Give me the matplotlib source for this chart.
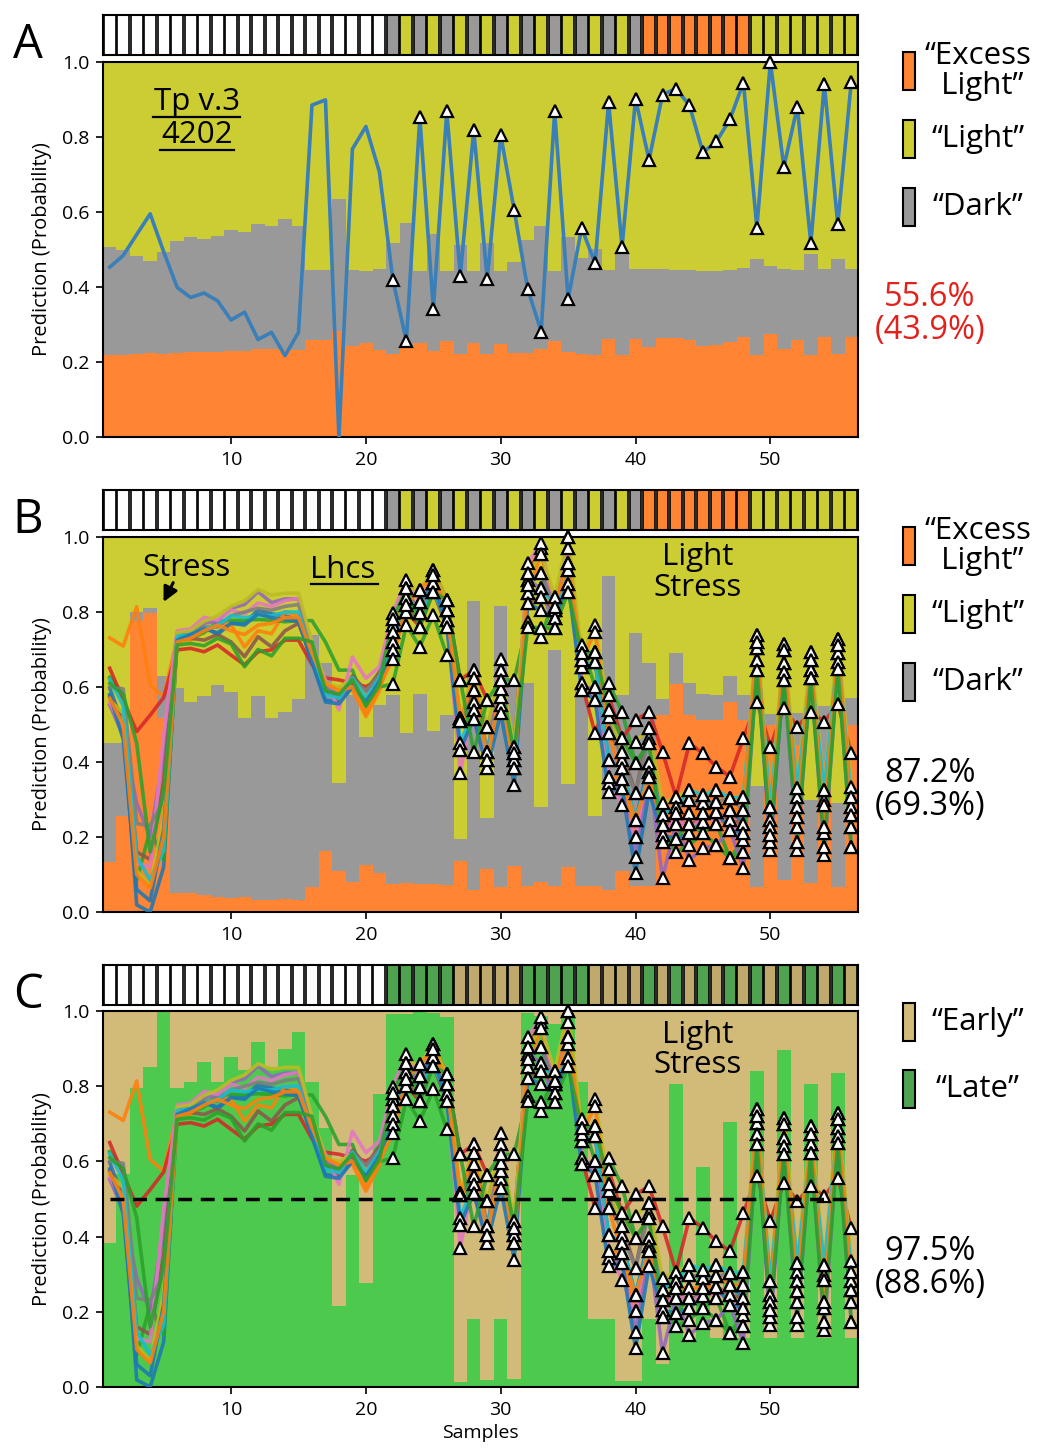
import numpy as np
import matplotlib.pyplot as plt
from matplotlib.patches import Rectangle

plt.rcParams['font.family'] = ['Open Sans', 'DejaVu Sans']

W, H = 1037, 1450
samples = np.arange(1, 57)

# top strips (sample labels)
strip_ab = ['white'] * 21 + ['dark', 'light'] * 9 + ['dark'] + ['excess'] * 8 + ['light'] * 8
strip_c = (['white'] * 21 + ['late'] * 5 + ['early'] * 5 + ['late'] * 5 + ['early'] * 4
           + ['late', 'early'] * 8)

# panel A: stacked class probabilities (orange, then top of gray) and the single model line
a_excess = [0.22, 0.22, 0.221, 0.223, 0.222, 0.224, 0.226, 0.226, 0.227, 0.23, 0.229, 0.235, 0.234, 0.233,
            0.233, 0.259, 0.26, 0.283, 0.243, 0.25, 0.233, 0.221, 0.243, 0.251, 0.229, 0.255, 0.221, 0.251,
            0.221, 0.248, 0.225, 0.223, 0.236, 0.257, 0.227, 0.221, 0.22, 0.261, 0.22, 0.262, 0.239, 0.263,
            0.265, 0.258, 0.243, 0.246, 0.253, 0.268, 0.22, 0.276, 0.236, 0.258, 0.22, 0.267, 0.222, 0.268]
a_dark_top = [0.507, 0.499, 0.483, 0.469, 0.493, 0.524, 0.532, 0.529, 0.535, 0.552, 0.546, 0.568, 0.563,
              0.582, 0.563, 0.445, 0.445, 0.635, 0.445, 0.443, 0.449, 0.517, 0.57, 0.443, 0.541, 0.443,
              0.513, 0.443, 0.518, 0.443, 0.467, 0.525, 0.562, 0.443, 0.534, 0.478, 0.502, 0.445, 0.49,
              0.447, 0.447, 0.448, 0.446, 0.445, 0.444, 0.443, 0.445, 0.451, 0.476, 0.457, 0.448, 0.445,
              0.489, 0.449, 0.475, 0.449]
a_line = [0.453, 0.484, 0.54, 0.595, 0.494, 0.399, 0.372, 0.384, 0.363, 0.312, 0.333, 0.26, 0.279, 0.217,
          0.279, 0.885, 0.899, 0.0, 0.768, 0.828, 0.707, 0.419, 0.256, 0.853, 0.341, 0.868, 0.43, 0.819,
          0.42, 0.805, 0.605, 0.395, 0.281, 0.868, 0.368, 0.557, 0.464, 0.892, 0.507, 0.902, 0.739, 0.913,
          0.929, 0.884, 0.759, 0.788, 0.847, 0.945, 0.558, 1.0, 0.72, 0.881, 0.516, 0.941, 0.567, 0.947]

# panel B: stacked class probabilities
b_excess = [0.134, 0.257, 0.776, 0.797, 0.517, 0.052, 0.05, 0.046, 0.04, 0.037, 0.04, 0.033, 0.031, 0.035,
            0.033, 0.066, 0.164, 0.109, 0.081, 0.125, 0.103, 0.076, 0.077, 0.074, 0.076, 0.071, 0.136, 0.06,
            0.116, 0.066, 0.123, 0.07, 0.08, 0.07, 0.12, 0.07, 0.07, 0.06, 0.11, 0.07, 0.07, 0.525, 0.608,
            0.525, 0.512, 0.512, 0.559, 0.512, 0.066, 0.5, 0.085, 0.445, 0.078, 0.401, 0.068, 0.499]
b_dark_top = [0.45, 0.45, 0.80, 0.81, 0.629, 0.598, 0.561, 0.577, 0.605, 0.587, 0.518, 0.577, 0.518, 0.534,
              0.568, 0.74, 0.663, 0.345, 0.579, 0.466, 0.552, 0.58, 0.478, 0.582, 0.483, 0.525, 0.195,
              0.829, 0.252, 0.816, 0.62, 0.61, 0.28, 0.699, 0.341, 0.60, 0.256, 0.897, 0.58, 0.745, 0.663,
              0.568, 0.692, 0.612, 0.581, 0.578, 0.629, 0.578, 0.337, 0.527, 0.527, 0.53, 0.299, 0.55,
              0.29, 0.571]

# panel C: probability of "Late"
c_late = [0.384, 0.566, 0.796, 0.852, 0.998, 0.796, 0.812, 0.865, 0.81, 0.878, 0.843, 0.918, 0.852, 0.898,
          0.945, 0.812, 0.688, 0.215, 0.564, 0.277, 0.779, 0.992, 0.993, 0.998, 0.996, 0.983, 0.012, 0.181,
          0.019, 0.181, 0.02, 0.994, 0.987, 0.965, 0.99, 0.812, 0.181, 0.181, 0.017, 0.015, 0.18, 0.06,
          0.806, 0.13, 0.586, 0.13, 0.706, 0.13, 0.84, 0.13, 0.896, 0.13, 0.806, 0.13, 0.834, 0.13]

# Lhcs gene profiles (shared by panels B and C)
lhc_blue = [0.597, 0.50, 0.019, 0.0, 0.12, 0.74, 0.745, 0.76, 0.74, 0.77,
            0.77, 0.805, 0.795, 0.79, 0.779, 0.672, 0.565, 0.561, 0.60, 0.565,
            0.62, 0.747, 0.837, 0.797, 0.877, 0.779, 0.517, 0.561, 0.427, 0.596,
            0.405, 0.872, 0.903, 0.805, 0.93, 0.654, 0.667, 0.405, 0.383, 0.245,
            0.397, 0.259, 0.281, 0.299, 0.29, 0.294, 0.272, 0.236, 0.703, 0.227,
            0.663, 0.307, 0.645, 0.285, 0.69, 0.281]
lhc_orange = [0.731, 0.709, 0.814, 0.605, 0.574, 0.73, 0.725, 0.75, 0.77, 0.765,
              0.707, 0.75, 0.742, 0.801, 0.79, 0.70, 0.60, 0.60, 0.592, 0.521,
              0.59, 0.72, 0.819, 0.827, 0.899, 0.805, 0.51, 0.539, 0.405, 0.574,
              0.383, 0.85, 0.956, 0.814, 0.97, 0.672, 0.694, 0.361, 0.356, 0.201,
              0.361, 0.232, 0.263, 0.263, 0.263, 0.267, 0.245, 0.21, 0.721, 0.205,
              0.699, 0.254, 0.672, 0.227, 0.712, 0.259]
lhc_green = [0.626, 0.583, 0.085, 0.219, 0.139, 0.72, 0.73, 0.745, 0.775, 0.778,
             0.778, 0.78, 0.778, 0.774, 0.777, 0.777, 0.72, 0.645, 0.645, 0.547,
             0.60, 0.608, 0.765, 0.707, 0.792, 0.685, 0.619, 0.592, 0.494, 0.619,
             0.619, 0.774, 0.734, 0.841, 0.854, 0.712, 0.601, 0.61, 0.534, 0.397,
             0.45, 0.205, 0.161, 0.179, 0.21, 0.236, 0.143, 0.192, 0.645, 0.245,
             0.619, 0.281, 0.623, 0.299, 0.649, 0.307]
lhc_red = [0.65, 0.565, 0.481, 0.525, 0.572, 0.699, 0.703, 0.694, 0.712, 0.685,
           0.659, 0.694, 0.699, 0.725, 0.725, 0.66, 0.624, 0.619, 0.61, 0.601,
           0.619, 0.781, 0.801, 0.761, 0.912, 0.832, 0.619, 0.645, 0.565, 0.552,
           0.441, 0.903, 0.97, 0.783, 1.0, 0.61, 0.477, 0.579, 0.463, 0.512,
           0.534, 0.427, 0.307, 0.45, 0.423, 0.387, 0.361, 0.463, 0.561, 0.441,
           0.543, 0.494, 0.534, 0.507, 0.556, 0.423]
lhc_purple = [0.552, 0.47, 0.29, 0.20, 0.42, 0.745, 0.75, 0.77, 0.775, 0.81,
              0.82, 0.854, 0.825, 0.835, 0.835, 0.70, 0.60, 0.58, 0.60, 0.58,
              0.63, 0.765, 0.863, 0.797, 0.877, 0.805, 0.432, 0.516, 0.383, 0.645,
              0.383, 0.885, 0.863, 0.757, 0.912, 0.592, 0.601, 0.343, 0.33, 0.147,
              0.374, 0.09, 0.236, 0.139, 0.17, 0.179, 0.219, 0.117, 0.672, 0.165,
              0.641, 0.165, 0.645, 0.152, 0.667, 0.174]
lhc_brown = [0.575, 0.52, 0.16, 0.14, 0.35, 0.735, 0.73, 0.725, 0.74, 0.72,
             0.681, 0.734, 0.707, 0.75, 0.77, 0.68, 0.59, 0.565, 0.63, 0.59,
             0.64, 0.699, 0.819, 0.761, 0.854, 0.761, 0.517, 0.592, 0.494, 0.596,
             0.423, 0.823, 0.841, 0.805, 0.876, 0.654, 0.667, 0.477, 0.427, 0.317,
             0.49, 0.232, 0.236, 0.236, 0.241, 0.267, 0.245, 0.236, 0.703, 0.205,
             0.663, 0.227, 0.672, 0.21, 0.69, 0.227]
lhc_pink = [0.56, 0.49, 0.13, 0.12, 0.47, 0.75, 0.755, 0.786, 0.778, 0.805,
            0.795, 0.824, 0.815, 0.83, 0.837, 0.707, 0.619, 0.539, 0.68, 0.623,
            0.654, 0.798, 0.885, 0.827, 0.899, 0.779, 0.37, 0.561, 0.405, 0.676,
            0.405, 0.93, 0.983, 0.783, 0.97, 0.61, 0.565, 0.361, 0.285, 0.201,
            0.397, 0.187, 0.263, 0.21, 0.263, 0.236, 0.272, 0.161, 0.739, 0.187,
            0.716, 0.187, 0.694, 0.174, 0.729, 0.259]
lhc_gray = [0.60, 0.595, 0.236, 0.23, 0.30, 0.74, 0.745, 0.76, 0.76, 0.79,
            0.80, 0.81, 0.805, 0.815, 0.82, 0.69, 0.60, 0.57, 0.62, 0.59,
            0.63, 0.765, 0.837, 0.797, 0.877, 0.805, 0.51, 0.623, 0.427, 0.619,
            0.423, 0.885, 0.903, 0.814, 0.93, 0.672, 0.694, 0.521, 0.405, 0.317,
            0.463, 0.259, 0.281, 0.299, 0.29, 0.294, 0.303, 0.272, 0.721, 0.245,
            0.699, 0.281, 0.672, 0.285, 0.712, 0.281]
lhc_olive = [0.565, 0.53, 0.11, 0.07, 0.25, 0.745, 0.75, 0.775, 0.79, 0.815,
             0.83, 0.86, 0.845, 0.85, 0.85, 0.72, 0.61, 0.60, 0.62, 0.575,
             0.61, 0.747, 0.863, 0.859, 0.912, 0.832, 0.517, 0.645, 0.494, 0.645,
             0.441, 0.903, 0.956, 0.841, 1.0, 0.69, 0.765, 0.539, 0.427, 0.454,
             0.49, 0.29, 0.307, 0.325, 0.312, 0.325, 0.303, 0.307, 0.739, 0.281,
             0.716, 0.33, 0.694, 0.325, 0.729, 0.334]
lhc_cyan = [0.62, 0.55, 0.148, 0.085, 0.165, 0.735, 0.74, 0.755, 0.765, 0.79,
            0.785, 0.79, 0.79, 0.80, 0.80, 0.68, 0.58, 0.57, 0.625, 0.57,
            0.625, 0.721, 0.837, 0.797, 0.854, 0.779, 0.45, 0.539, 0.427, 0.574,
            0.405, 0.85, 0.863, 0.805, 0.912, 0.654, 0.667, 0.405, 0.383, 0.245,
            0.374, 0.259, 0.281, 0.325, 0.312, 0.325, 0.303, 0.307, 0.703, 0.281,
            0.663, 0.33, 0.645, 0.325, 0.69, 0.307]
lhc_blue2 = [0.58, 0.46, 0.06, 0.03, 0.22, 0.725, 0.74, 0.755, 0.745, 0.77,
             0.765, 0.795, 0.785, 0.78, 0.775, 0.665, 0.56, 0.555, 0.60, 0.56,
             0.615, 0.699, 0.801, 0.827, 0.877, 0.761, 0.432, 0.516, 0.383, 0.53,
             0.339, 0.823, 0.805, 0.783, 0.876, 0.592, 0.565, 0.321, 0.33, 0.103,
             0.321, 0.205, 0.196, 0.21, 0.241, 0.267, 0.219, 0.21, 0.672, 0.187,
             0.641, 0.227, 0.623, 0.21, 0.667, 0.227]
lhc_orange2 = [0.57, 0.50, 0.10, 0.064, 0.20, 0.72, 0.73, 0.75, 0.765, 0.75,
               0.74, 0.765, 0.77, 0.785, 0.785, 0.69, 0.61, 0.59, 0.60, 0.53,
               0.60, 0.676, 0.819, 0.859, 0.899, 0.805, 0.51, 0.623, 0.405, 0.596,
               0.383, 0.872, 0.841, 0.814, 0.93, 0.672, 0.747, 0.477, 0.356, 0.245,
               0.361, 0.232, 0.263, 0.263, 0.263, 0.294, 0.272, 0.272, 0.721, 0.227,
               0.699, 0.254, 0.672, 0.227, 0.712, 0.259]
lhc_green2 = [0.61, 0.58, 0.45, 0.16, 0.32, 0.712, 0.716, 0.71, 0.73, 0.715,
              0.654, 0.70, 0.683, 0.73, 0.73, 0.72, 0.59, 0.58, 0.62, 0.55,
              0.605, 0.781, 0.863, 0.761, 0.854, 0.832, 0.619, 0.427, 0.565, 0.619,
              0.423, 0.761, 0.757, 0.757, 0.854, 0.69, 0.694, 0.539, 0.463, 0.397,
              0.45, 0.187, 0.196, 0.236, 0.21, 0.179, 0.143, 0.161, 0.645, 0.205,
              0.619, 0.187, 0.623, 0.174, 0.649, 0.174]

lhc_lines = [lhc_blue, lhc_orange, lhc_green, lhc_red, lhc_purple, lhc_brown, lhc_pink,
             lhc_gray, lhc_olive, lhc_cyan, lhc_blue2, lhc_orange2, lhc_green2]
lhc_colors = ['tab:blue', 'tab:orange', 'tab:green', 'tab:red', 'tab:purple', 'tab:brown',
              'tab:pink', 'tab:gray', 'tab:olive', 'tab:cyan', 'tab:blue', 'tab:orange', 'tab:green']

x_ticks = [10, 20, 30, 40, 50]
y_ticks = [0.0, 0.2, 0.4, 0.6, 0.8, 1.0]

C_EXCESS = '#ff8433'
C_DARK = '#999999'
C_LIGHT = '#cccc33'
C_LATE = '#4dc94d'
C_EARLY = '#d2ba78'
strip_colors = {'white': 'white', 'dark': '#999999', 'light': '#cccc33', 'excess': '#ff8533',
                'late': '#4fa24f', 'early': '#bfa96c'}

TXT = 22.5

fig = plt.figure(figsize=(W / 100, H / 100), dpi=100)


def add_ax(x0, y0, x1, y1):
    return fig.add_axes([x0 / W, 1 - y1 / H, (x1 - x0) / W, (y1 - y0) / H])


def draw_strip(y0, labels):
    ax = add_ax(103, y0, 858, y0 + 40)
    ax.bar(samples, 1, width=0.88, color=[strip_colors[l] for l in labels],
           edgecolor='black', linewidth=1.2)
    ax.set_xlim(0.5, 56.5)
    ax.set_ylim(0, 1)
    ax.set_xticks([])
    ax.set_yticks([])
    for s in ax.spines.values():
        s.set_linewidth(1.5)


def style_main(ax, xlabel=False):
    ax.set_xlim(0.5, 56.5)
    ax.set_ylim(0, 1)
    ax.set_xticks(x_ticks)
    ax.set_xticklabels([str(t) for t in x_ticks], fontsize=14)
    ax.set_yticks(y_ticks)
    ax.set_yticklabels(['%.1f' % t for t in y_ticks], fontsize=14)
    ax.tick_params(direction='out', length=5, width=1.2, pad=5)
    for s in ax.spines.values():
        s.set_linewidth(1.5)
    ax.set_ylabel('Prediction (Probability)', fontsize=14.5, labelpad=7)
    if xlabel:
        ax.set_xlabel('Samples', fontsize=14, labelpad=4)


def legend_item(yc, color, label):
    fig.add_artist(Rectangle((903 / W, 1 - (yc + 19) / H), 12 / W, 38 / H, transform=fig.transFigure,
                             facecolor=color, edgecolor='black', linewidth=1.5))
    fig.text(978 / W, 1 - yc / H, label, ha='center', va='center', fontsize=TXT, linespacing=1.02)


def draw_lines(ax):
    for vals, c in zip(lhc_lines, lhc_colors):
        ax.plot(samples, vals, color=c, lw=2.6, alpha=0.88, zorder=3)
    for vals in lhc_lines:
        ax.plot(samples[21:], vals[21:], ls='none', marker='^', ms=8, mfc='white', mec='black',
                mew=1.6, zorder=4, clip_on=False)


def stacked_classes(ax, excess, dark_top):
    ex = np.array(excess)
    dk = np.array(dark_top)
    ax.bar(samples, ex, width=1, color=C_EXCESS, linewidth=0)
    ax.bar(samples, dk - ex, bottom=ex, width=1, color=C_DARK, linewidth=0)
    ax.bar(samples, 1 - dk, bottom=dk, width=1, color=C_LIGHT, linewidth=0)


# ---------------- panel A
draw_strip(15, strip_ab)
axA = add_ax(103, 62, 858, 437)
stacked_classes(axA, a_excess, a_dark_top)
axA.plot(samples, a_line, color='#3a7fb8', lw=2.6, zorder=3)
axA.plot(samples[21:], a_line[21:], ls='none', marker='^', ms=8, mfc='white', mec='black', mew=1.6,
         zorder=4, clip_on=False)
style_main(axA)
axA.text(7.5, 0.892, 'Tp v.3', ha='center', va='center', fontsize=TXT)
axA.text(7.5, 0.804, '4202', ha='center', va='center', fontsize=TXT)
axA.plot([0.066, 0.182], [0.853, 0.853], color='black', lw=1.6, transform=axA.transAxes)
axA.plot([0.075, 0.173], [0.764, 0.764], color='black', lw=1.6, transform=axA.transAxes)

# ---------------- panel B
draw_strip(490, strip_ab)
axB = add_ax(103, 537, 858, 912)
stacked_classes(axB, b_excess, b_dark_top)
draw_lines(axB)
style_main(axB)
axB.text(6.7, 0.917, 'Stress', ha='center', va='center', fontsize=TXT, zorder=5)
axB.annotate('', xy=(4.9, 0.82), xytext=(5.8, 0.885),
             arrowprops=dict(arrowstyle='-|>', color='black', lw=2.2, mutation_scale=22), zorder=5)
axB.text(18.3, 0.912, 'Lhcs', ha='center', va='center', fontsize=TXT, zorder=5)
axB.plot([0.276, 0.364], [0.876, 0.876], color='black', lw=1.6, transform=axB.transAxes, zorder=5)
axB.text(44.6, 0.905, 'Light\nStress', ha='center', va='center', fontsize=TXT, linespacing=1.02, zorder=5)

# ---------------- panel C
draw_strip(965, strip_c)
axC = add_ax(103, 1011, 858, 1387)
late = np.array(c_late)
axC.bar(samples, late, width=1, color=C_LATE, linewidth=0)
axC.bar(samples, 1 - late, bottom=late, width=1, color=C_EARLY, linewidth=0)
draw_lines(axC)
axC.plot([1, 56], [0.5, 0.5], color='black', lw=2.5, ls=(0, (4, 2.5)), zorder=5)
style_main(axC, xlabel=True)
axC.text(44.6, 0.896, 'Light\nStress', ha='center', va='center', fontsize=TXT, linespacing=1.02, zorder=5)

# panel letters
for letter, y in [('A', 45), ('B', 520), ('C', 995)]:
    fig.text(28 / W, 1 - y / H, letter, ha='center', va='center', fontsize=34)

# legends and accuracies
legend_item(71, C_EXCESS, '\u201cExcess\n Light\u201d')
legend_item(139, C_LIGHT, '\u201cLight\u201d')
legend_item(207, C_DARK, '\u201cDark\u201d')
fig.text(930 / W, 1 - 314 / H, '55.6%\n(43.9%)', ha='center', va='center', fontsize=23.5,
         color='#e3211c', linespacing=0.98)

legend_item(546, C_EXCESS, '\u201cExcess\n Light\u201d')
legend_item(614, C_LIGHT, '\u201cLight\u201d')
legend_item(682, C_DARK, '\u201cDark\u201d')
fig.text(930 / W, 1 - 790 / H, '87.2%\n(69.3%)', ha='center', va='center', fontsize=23.5, linespacing=0.98)

legend_item(1022, C_EARLY, '\u201cEarly\u201d')
legend_item(1089, '#4fa24f', '\u201cLate\u201d')
fig.text(930 / W, 1 - 1268 / H, '97.5%\n(88.6%)', ha='center', va='center', fontsize=23.5, linespacing=0.98)

fig.savefig('out.png', dpi=100)
